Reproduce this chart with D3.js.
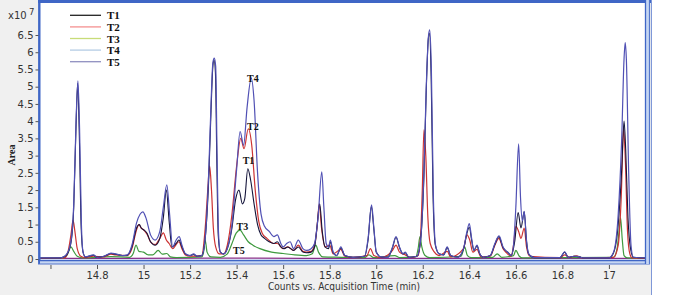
<!DOCTYPE html>
<html><head><meta charset="utf-8">
<script src="https://cdn.jsdelivr.net/npm/d3@7/dist/d3.min.js"></script>
<style>html,body{margin:0;padding:0;background:#fff;}svg{display:block;}</style>
</head><body><svg id="c" width="685" height="295"></svg>
<script>
// ---- data (time in min, Area in x10^7) ----
const seriesNames = ["T1","T2","T3","T4","T5"];
const T1 = [[14.555,0.03],[14.64,0.03],[14.66,0.07],[14.675,0.18],[14.69,0.55],[14.70,1.5],[14.71,3.9],[14.717,5.1],[14.724,3.6],[14.732,0.9],[14.74,0.2],[14.75,0.06],[14.785,0.11],[14.80,0.05],[14.83,0.08],[14.86,0.16],[14.88,0.14],[14.91,0.1],[14.93,0.11],[14.95,0.35],[14.97,0.9],[14.982,1.0],[14.99,0.9],[15.0,0.85],[15.015,0.75],[15.03,0.5],[15.05,0.4],[15.07,0.6],[15.085,1.2],[15.098,2.0],[15.11,1.1],[15.122,0.35],[15.14,0.45],[15.152,0.55],[15.165,0.35],[15.18,0.15],[15.20,0.1],[15.215,0.13],[15.23,0.08],[15.25,0.1],[15.265,0.6],[15.28,2.3],[15.29,4.3],[15.298,5.6],[15.303,5.78],[15.309,5.4],[15.315,2.8],[15.321,0.7],[15.33,0.2],[15.345,0.15],[15.36,0.3],[15.38,0.9],[15.395,1.7],[15.41,2.0],[15.425,1.6],[15.435,1.75],[15.448,2.62],[15.46,2.3],[15.475,1.6],[15.49,1.0],[15.505,0.7],[15.52,0.6],[15.54,0.5],[15.56,0.45],[15.575,0.5],[15.59,0.35],[15.605,0.3],[15.62,0.35],[15.645,0.25],[15.665,0.35],[15.685,0.2],[15.70,0.18],[15.72,0.2],[15.735,0.35],[15.745,0.9],[15.757,1.6],[15.768,0.8],[15.78,0.35],[15.795,0.3],[15.803,0.5],[15.815,0.18],[15.83,0.1],[15.848,0.32],[15.865,0.1],[15.90,0.05],[15.95,0.08],[15.965,0.55],[15.979,1.52],[15.99,0.85],[16.0,0.2],[16.02,0.06],[16.05,0.05],[16.07,0.33],[16.085,0.63],[16.10,0.33],[16.115,0.15],[16.125,0.18],[16.14,0.05],[16.175,0.08],[16.19,0.5],[16.205,2.4],[16.215,4.9],[16.224,6.4],[16.229,6.55],[16.236,5.3],[16.244,1.9],[16.254,0.4],[16.27,0.15],[16.29,0.12],[16.305,0.33],[16.32,0.1],[16.35,0.05],[16.375,0.28],[16.39,0.75],[16.40,0.92],[16.41,0.55],[16.42,0.25],[16.433,0.38],[16.445,0.15],[16.46,0.05],[16.49,0.1],[16.51,0.43],[16.527,0.65],[16.545,0.33],[16.555,0.25],[16.565,0.2],[16.58,0.1],[16.595,0.5],[16.61,1.35],[16.622,0.9],[16.636,1.37],[16.646,0.5],[16.655,0.15],[16.68,0.04],[16.79,0.04],[16.81,0.2],[16.825,0.05],[16.85,0.08],[16.87,0.07],[16.89,0.03],[17.0,0.03],[17.02,0.18],[17.04,1.0],[17.055,2.6],[17.065,4.0],[17.072,3.2],[17.082,1.2],[17.093,0.3],[17.105,0.05],[17.168,0.03]];
const T2 = [[14.555,0.02],[14.66,0.03],[14.675,0.2],[14.688,0.7],[14.697,1.13],[14.705,0.8],[14.715,0.3],[14.73,0.08],[14.75,0.04],[14.785,0.08],[14.83,0.06],[14.86,0.14],[14.88,0.12],[14.93,0.1],[14.95,0.3],[14.97,0.85],[14.98,1.0],[14.99,0.9],[15.0,0.85],[15.015,0.72],[15.03,0.5],[15.05,0.42],[15.07,0.6],[15.085,0.76],[15.098,0.55],[15.11,0.45],[15.125,0.3],[15.14,0.42],[15.152,0.5],[15.165,0.3],[15.18,0.12],[15.2,0.08],[15.25,0.1],[15.265,0.9],[15.276,2.0],[15.284,2.7],[15.292,2.0],[15.3,0.9],[15.31,0.35],[15.325,0.15],[15.345,0.15],[15.36,0.4],[15.38,1.3],[15.4,2.7],[15.418,3.5],[15.432,3.2],[15.45,3.78],[15.465,3.3],[15.48,2.0],[15.495,1.1],[15.51,0.75],[15.53,0.6],[15.56,0.45],[15.575,0.45],[15.6,0.3],[15.62,0.35],[15.645,0.25],[15.665,0.4],[15.685,0.22],[15.7,0.2],[15.72,0.22],[15.738,0.5],[15.748,1.1],[15.755,1.6],[15.765,0.9],[15.78,0.35],[15.8,0.4],[15.815,0.15],[15.848,0.28],[15.865,0.08],[15.9,0.05],[15.96,0.1],[15.975,0.3],[15.99,0.1],[16.02,0.04],[16.07,0.25],[16.085,0.4],[16.10,0.2],[16.125,0.12],[16.15,0.04],[16.18,0.1],[16.19,0.6],[16.198,2.0],[16.205,3.75],[16.213,3.0],[16.222,1.2],[16.232,0.45],[16.25,0.2],[16.27,0.1],[16.305,0.22],[16.32,0.06],[16.375,0.3],[16.39,0.7],[16.402,0.55],[16.415,0.2],[16.433,0.28],[16.45,0.06],[16.49,0.08],[16.51,0.4],[16.527,0.6],[16.545,0.3],[16.56,0.18],[16.58,0.08],[16.59,0.4],[16.6,0.95],[16.612,0.8],[16.622,0.6],[16.636,0.9],[16.646,0.35],[16.66,0.08],[16.79,0.04],[16.81,0.12],[16.83,0.05],[16.86,0.09],[16.89,0.03],[17.02,0.05],[17.04,0.4],[17.053,1.8],[17.063,3.8],[17.071,2.8],[17.08,0.8],[17.09,0.15],[17.1,0.03],[17.168,0.02]];
const T3 = [[14.555,0.02],[14.655,0.03],[14.672,0.12],[14.688,0.35],[14.70,0.22],[14.715,0.08],[14.74,0.03],[14.86,0.07],[14.94,0.05],[14.955,0.15],[14.968,0.4],[14.98,0.22],[15.0,0.2],[15.02,0.12],[15.04,0.12],[15.063,0.25],[15.08,0.14],[15.1,0.16],[15.115,0.06],[15.14,0.04],[15.25,0.06],[15.258,0.2],[15.265,0.55],[15.273,0.2],[15.29,0.06],[15.33,0.05],[15.36,0.15],[15.38,0.45],[15.398,0.75],[15.415,0.84],[15.43,0.7],[15.45,0.5],[15.47,0.4],[15.5,0.3],[15.55,0.2],[15.6,0.16],[15.65,0.12],[15.7,0.1],[15.725,0.15],[15.74,0.4],[15.752,0.2],[15.77,0.06],[15.85,0.05],[15.95,0.04],[15.968,0.12],[15.99,0.04],[16.08,0.1],[16.1,0.04],[16.17,0.06],[16.18,0.3],[16.188,0.65],[16.196,0.35],[16.21,0.1],[16.23,0.04],[16.365,0.08],[16.38,0.35],[16.392,0.1],[16.41,0.04],[16.5,0.05],[16.52,0.15],[16.54,0.05],[16.59,0.1],[16.6,0.25],[16.615,0.08],[16.63,0.03],[17.02,0.05],[17.035,0.3],[17.045,0.9],[17.05,1.2],[17.057,0.6],[17.065,0.1],[17.08,0.03],[17.168,0.02]];
const T4 = [[14.555,0.03],[14.64,0.03],[14.66,0.08],[14.675,0.2],[14.69,0.6],[14.70,1.6],[14.71,4.0],[14.718,5.17],[14.725,3.8],[14.733,1.0],[14.74,0.2],[14.75,0.06],[14.785,0.12],[14.80,0.05],[14.83,0.08],[14.86,0.17],[14.88,0.15],[14.91,0.1],[14.93,0.12],[14.95,0.4],[14.97,1.05],[14.985,1.3],[14.997,1.37],[15.01,1.2],[15.03,0.7],[15.05,0.55],[15.07,0.8],[15.085,1.5],[15.10,2.15],[15.112,1.3],[15.125,0.35],[15.14,0.55],[15.153,0.65],[15.165,0.4],[15.18,0.15],[15.20,0.1],[15.215,0.15],[15.23,0.08],[15.25,0.1],[15.265,0.6],[15.28,2.5],[15.29,4.5],[15.298,5.7],[15.304,5.83],[15.31,5.6],[15.316,3.0],[15.322,0.8],[15.33,0.2],[15.345,0.15],[15.36,0.3],[15.38,1.0],[15.40,2.6],[15.415,3.7],[15.43,3.3],[15.445,4.4],[15.463,5.25],[15.475,4.6],[15.49,2.5],[15.505,1.3],[15.52,0.95],[15.54,0.8],[15.56,0.65],[15.575,0.7],[15.59,0.45],[15.60,0.35],[15.615,0.45],[15.63,0.5],[15.645,0.3],[15.665,0.55],[15.685,0.3],[15.70,0.25],[15.72,0.3],[15.735,0.45],[15.75,1.2],[15.766,2.53],[15.775,1.5],[15.785,0.45],[15.795,0.35],[15.803,0.55],[15.815,0.2],[15.83,0.1],[15.848,0.35],[15.865,0.1],[15.90,0.05],[15.95,0.08],[15.965,0.6],[15.98,1.57],[15.99,0.9],[16.0,0.2],[16.02,0.06],[16.05,0.05],[16.07,0.35],[16.085,0.65],[16.10,0.35],[16.115,0.15],[16.125,0.2],[16.14,0.05],[16.175,0.08],[16.19,0.5],[16.205,2.5],[16.215,5.0],[16.225,6.5],[16.23,6.65],[16.237,5.5],[16.245,2.0],[16.255,0.4],[16.27,0.15],[16.29,0.12],[16.305,0.35],[16.32,0.1],[16.35,0.05],[16.375,0.3],[16.39,0.8],[16.40,1.03],[16.41,0.6],[16.42,0.25],[16.433,0.4],[16.445,0.15],[16.46,0.05],[16.49,0.1],[16.51,0.45],[16.528,0.67],[16.545,0.35],[16.555,0.25],[16.565,0.2],[16.58,0.1],[16.59,0.4],[16.60,1.5],[16.612,3.34],[16.62,1.8],[16.628,1.1],[16.636,1.38],[16.645,0.6],[16.655,0.15],[16.68,0.04],[16.79,0.04],[16.81,0.21],[16.825,0.05],[16.85,0.08],[16.87,0.07],[16.89,0.03],[17.0,0.03],[17.02,0.2],[17.04,1.3],[17.055,3.5],[17.065,5.8],[17.07,6.28],[17.075,5.8],[17.085,2.5],[17.095,0.4],[17.105,0.05],[17.168,0.03]];
const T5 = [[14.555,0.02],[14.9,0.02],[15.3,0.025],[15.7,0.02],[16.1,0.02],[16.5,0.02],[16.9,0.02],[17.168,0.02]];
const xTicks = [14.6,14.8,15,15.2,15.4,15.6,15.8,16,16.2,16.4,16.6,16.8,17];
const xTickLabels = ["","14.8","15","15.2","15.4","15.6","15.8","16","16.2","16.4","16.6","16.8","17"];
const yTicks = [0,0.5,1,1.5,2,2.5,3,3.5,4,4.5,5,5.5,6,6.5];
const annotations = [["T4",15.470,5.14],["T2",15.470,3.74],["T1",15.451,2.76],["T3",15.425,0.84],["T5",15.410,0.145]];

// ---- drawing ----
const svg = d3.select("#c");
const L=40, R=648, T=3, B=262;
const x = d3.scaleLinear().domain([14.555,17.168]).range([L,R]);
const y = d3.scaleLinear().domain([0,6.5]).range([259,35]);

svg.append("rect").attr("x",0).attr("y",0).attr("width",651).attr("height",295).attr("fill","#f0f0f0");
svg.append("rect").attr("x",L).attr("y",T).attr("width",R-L).attr("height",B-T).attr("fill","#ffffff");

const colors = {T1:"#14143a",T2:"#cc3333",T3:"#3f9a3f",T4:"#5050b4",T5:"#882f88"};
const legendColors = {T1:"#222222",T2:"#f49090",T3:"#c8dc78",T4:"#b4cce4",T5:"#9090c0"};
const data = {T1,T2,T3,T4,T5};

svg.append("clipPath").attr("id","pc").append("rect").attr("x",L).attr("y",T).attr("width",R-L).attr("height",B-T-1);
const g = svg.append("g").attr("clip-path","url(#pc)");
const line = d3.line().x(d=>x(d[0])).y(d=>y(d[1])).curve(d3.curveMonotoneX);
["T5","T3","T2","T1","T4"].forEach(k=>{
  g.append("path").datum(data[k]).attr("d",line).attr("fill","none")
   .attr("stroke",colors[k]).attr("stroke-width",k==="T1"?1.1:1.2).attr("stroke-linejoin","round");
});

// frame
svg.append("line").attr("x1",38).attr("x2",651).attr("y1",1.5).attr("y2",1.5).attr("stroke","#3f66c6").attr("stroke-width",3);
svg.append("line").attr("x1",39.3).attr("x2",39.3).attr("y1",0).attr("y2",264).attr("stroke","#3f66c6").attr("stroke-width",2.4);
svg.append("rect").attr("x",L).attr("y",260).attr("width",610).attr("height",4).attr("fill","#c6d6f2");
svg.append("line").attr("x1",38).attr("x2",650).attr("y1",260.5).attr("y2",260.5).attr("stroke","#3f66c6").attr("stroke-width",1.4);
svg.append("line").attr("x1",38).attr("x2",650).attr("y1",264).attr("y2",264).attr("stroke","#5577cc").attr("stroke-width",1.2);
svg.append("rect").attr("x",645).attr("y",0).attr("width",4.5).attr("height",264).attr("fill","#c6d6f2");
svg.append("line").attr("x1",645.5).attr("x2",645.5).attr("y1",0).attr("y2",264).attr("stroke","#3f66c6").attr("stroke-width",1.3);
svg.append("line").attr("x1",649.5).attr("x2",649.5).attr("y1",0).attr("y2",264).attr("stroke","#5577cc").attr("stroke-width",1.2);
svg.append("line").attr("x1",651.5).attr("x2",651.5).attr("y1",0).attr("y2",295).attr("stroke","#7f98d8").attr("stroke-width",1);

// y axis
const yAxis = d3.axisLeft(y).tickValues(yTicks).tickSize(3).tickPadding(2).tickFormat(d3.format("~g"));
const ya = svg.append("g").attr("transform","translate(38.5,0)").call(yAxis);
ya.select(".domain").remove();
ya.selectAll("line").attr("stroke","#555");
ya.selectAll("text").attr("font-family","DejaVu Sans, Verdana, sans-serif").attr("font-size",10).attr("fill","#333");

// x axis
const xAxis = d3.axisBottom(x).tickValues(xTicks).tickSize(4).tickPadding(3).tickFormat((d,i)=>xTickLabels[i]);
const xa = svg.append("g").attr("transform","translate(0,265)").call(xAxis);
xa.select(".domain").remove();
xa.selectAll("line").attr("stroke","#555");
xa.selectAll("text").attr("font-family","DejaVu Sans, Verdana, sans-serif").attr("font-size",10).attr("fill","#333");

svg.append("text").attr("x",344).attr("y",290).attr("text-anchor","middle")
  .attr("font-family","DejaVu Sans, Verdana, sans-serif").attr("font-size",10.5).attr("fill","#333")
  .attr("textLength",152).attr("lengthAdjust","spacingAndGlyphs")
  .text("Counts vs. Acquisition Time (min)");

// y title & multiplier
svg.append("text").attr("transform","translate(15,155) rotate(-90)").attr("text-anchor","middle")
  .attr("font-family","Liberation Serif, serif").attr("font-weight","bold").attr("font-size",10).attr("fill","#222")
  .text("Area");
svg.append("text").attr("x",8).attr("y",19).attr("font-family","DejaVu Sans, Verdana, sans-serif").attr("font-size",10).attr("fill","#333").text("x10");
svg.append("text").attr("x",29).attr("y",15).attr("font-family","DejaVu Sans, Verdana, sans-serif").attr("font-size",8.5).attr("fill","#333").text("7");

// legend
seriesNames.forEach((k,i)=>{
  const yy = 15.3 + i*11.6;
  svg.append("line").attr("x1",70).attr("x2",101).attr("y1",yy).attr("y2",yy).attr("stroke",legendColors[k]).attr("stroke-width",1.3);
  svg.append("text").attr("x",107).attr("y",yy+4).attr("font-family","Liberation Serif, serif").attr("font-weight","bold")
    .attr("font-size",11).attr("fill","#111").text(k);
});

// annotations
annotations.forEach(a=>{
  svg.append("text").attr("x",x(a[1])).attr("y",y(a[2])).attr("text-anchor","middle")
    .attr("font-family","Liberation Serif, serif").attr("font-weight","bold").attr("font-size",10).attr("fill","#111").text(a[0]);
});
</script></body></html>
